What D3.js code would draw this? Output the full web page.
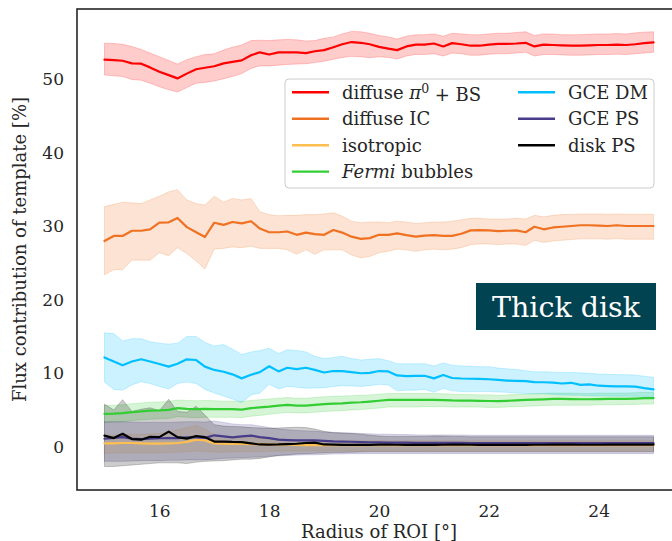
<!DOCTYPE html>
<html>
<head>
<meta charset="utf-8">
<script src="https://cdn.jsdelivr.net/npm/d3@7"></script>
<style>
  html, body { margin: 0; padding: 0; background: #ffffff; }
  svg { display: block; }
  svg text { font-family: "DejaVu Serif", "Liberation Serif", serif !important; }
</style>
</head>
<body>
<svg id="chart" width="672" height="541" font-family="DejaVu Serif, Liberation Serif, serif"></svg>
<script>
// ROI radius (degrees)
const radii = [
  15.00, 15.17, 15.33, 15.50, 15.67, 15.83,
  16.00, 16.17, 16.33, 16.50, 16.67, 16.83,
  17.00, 17.17, 17.33, 17.50, 17.67, 17.83,
  18.00, 18.17, 18.33, 18.50, 18.67, 18.83,
  19.00, 19.17, 19.33, 19.50, 19.67, 19.83,
  20.00, 20.17, 20.33, 20.50, 20.67, 20.83,
  21.00, 21.17, 21.33, 21.50, 21.67, 21.83,
  22.00, 22.17, 22.33, 22.50, 22.67, 22.83,
  23.00, 23.17, 23.33, 23.50, 23.67, 23.83,
  24.00, 24.17, 24.33, 24.50, 24.67, 24.83,
  25.00
];

const xTicks = [16, 18, 20, 22, 24];
const yTicks = [0, 10, 20, 30, 40, 50];

// diffuse pi0 + BS
const pi0Mid = [
  52.7, 52.65, 52.55, 52.2, 52.15, 51.65, 51.05, 50.6, 50.15, 50.8,
  51.4, 51.6, 51.8, 52.2, 52.4, 52.6, 53.3, 53.7, 53.4, 53.7,
  53.7, 53.7, 53.6, 53.85, 54.0, 54.4, 54.8, 55.1, 55.0, 54.8,
  54.45, 54.2, 54.0, 54.5, 54.75, 54.75, 54.9, 54.5, 54.95, 54.8,
  54.6, 54.6, 54.75, 54.85, 54.85, 54.9, 55.0, 54.5, 54.75, 54.7,
  54.65, 54.6, 54.6, 54.65, 54.7, 54.7, 54.75, 54.7, 54.8, 54.95,
  55.05
];
const pi0Hi = [
  54.95, 54.9, 54.8, 54.5, 54.1, 53.6, 53.1, 52.6, 52.1, 52.7,
  53.1, 53.4, 53.5, 54.0, 54.4, 54.7, 55.3, 55.35, 55.3, 55.4,
  55.45, 55.4, 55.25, 55.3, 55.6, 55.8, 56.2, 56.55, 56.5, 56.3,
  56.0, 55.8, 55.5, 55.9, 56.1, 56.1, 56.2, 55.9, 56.3, 56.2,
  56.1, 56.1, 56.2, 56.3, 56.3, 56.4, 56.5, 56.0, 56.2, 56.2,
  56.1, 56.1, 56.1, 56.15, 56.2, 56.2, 56.25, 56.2, 56.35, 56.45,
  56.5
];
const pi0Lo = [
  50.6, 50.5, 50.4, 50.0, 49.9, 49.5, 49.0, 48.6, 48.3, 48.9,
  49.5, 49.6, 49.8, 50.1, 50.4, 50.8, 51.5, 51.85, 51.85, 51.95,
  52.05, 52.1, 52.15, 52.3, 52.5, 52.75, 53.0, 53.15, 53.1, 52.95,
  53.1, 53.0, 52.8, 53.2, 53.4, 53.4, 53.5, 53.2, 53.6, 53.5,
  53.3, 53.3, 53.45, 53.5, 53.5, 53.6, 53.7, 53.2, 53.4, 53.4,
  53.35, 53.3, 53.3, 53.35, 53.4, 53.4, 53.45, 53.4, 53.5, 53.6,
  53.7
];

// diffuse IC
const icMid = [
  28.0, 28.7, 28.7, 29.4, 29.4, 29.6, 30.5, 30.55, 31.15, 29.9,
  29.2, 28.55, 30.5, 30.2, 30.6, 30.4, 30.7, 29.7, 29.2, 29.2,
  29.3, 28.85, 29.15, 28.95, 28.85, 29.5, 29.15, 28.6, 28.3, 28.4,
  28.85, 28.85, 29.05, 28.8, 28.6, 28.75, 28.8, 28.7, 28.7, 29.0,
  29.45, 29.5, 29.45, 29.35, 29.4, 29.45, 29.2, 29.95, 29.6, 29.85,
  29.95, 30.05, 30.15, 30.15, 30.1, 30.05, 30.15, 30.05, 30.05, 30.05,
  30.05
];
const icHi = [
  32.7, 33.0, 33.3, 33.2, 33.1, 33.6, 34.1, 34.7, 35.0, 33.6,
  33.1, 32.9, 34.1, 33.3, 33.8, 33.6, 33.8, 32.0, 31.6, 31.45,
  31.5, 31.5, 31.6, 31.6, 31.7, 31.85, 31.4, 30.7, 30.5, 30.6,
  30.6, 30.5, 30.7, 30.6, 30.4, 30.5, 30.6, 30.6, 30.7, 30.9,
  31.1, 31.1, 31.0, 31.0, 31.0, 31.1, 31.0, 31.5, 31.3, 31.5,
  31.6, 31.65, 31.7, 31.7, 31.7, 31.65, 31.7, 31.65, 31.65, 31.65,
  31.65
];
const icLo = [
  23.4, 24.1, 24.1, 25.4, 25.4, 25.4, 26.4, 26.0, 27.1, 26.3,
  25.3, 24.2, 26.9, 27.0, 27.2, 27.1, 27.3, 27.0, 27.0, 27.0,
  26.8, 26.2, 26.8, 26.2, 26.8, 26.8, 26.8, 26.1, 25.7, 25.9,
  26.4, 26.6, 26.9, 26.8, 26.6, 26.8, 26.9, 26.8, 26.9, 27.1,
  27.5, 27.6, 27.6, 27.5, 27.6, 27.6, 27.4, 28.1, 27.8, 28.0,
  28.1, 28.2, 28.3, 28.3, 28.3, 28.25, 28.35, 28.25, 28.25, 28.25,
  28.25
];

// isotropic
const isoMid = [
  0.45, 0.45, 0.5, 0.5, 0.45, 0.42, 0.42, 0.45, 0.5, 0.65,
  0.95, 0.85, 0.45, 0.4, 0.38, 0.38, 0.36, 0.35, 0.3, 0.28,
  0.27, 0.25, 0.22, 0.2, 0.2, 0.2, 0.2, 0.2, 0.2, 0.2,
  0.2, 0.2, 0.2, 0.2, 0.2, 0.2, 0.2, 0.2, 0.2, 0.2,
  0.2, 0.2, 0.2, 0.2, 0.2, 0.2, 0.2, 0.2, 0.2, 0.2,
  0.2, 0.2, 0.2, 0.2, 0.2, 0.2, 0.2, 0.2, 0.2, 0.2,
  0.2
];
const isoHi = [
  1.6, 1.6, 1.7, 1.7, 1.7, 1.75, 1.8, 2.0, 2.3, 2.6,
  2.9, 2.4, 1.6, 1.4, 1.3, 1.25, 1.2, 1.15, 1.1, 1.05,
  1.0, 0.95, 0.9, 0.85, 0.8, 0.8, 0.8, 0.8, 0.8, 0.8,
  0.8, 0.8, 0.8, 0.8, 0.8, 0.8, 0.8, 0.8, 0.8, 0.8,
  0.8, 0.8, 0.8, 0.8, 0.8, 0.8, 0.8, 0.8, 0.8, 0.8,
  0.8, 0.8, 0.8, 0.8, 0.8, 0.8, 0.8, 0.8, 0.8, 0.8,
  0.8
];
const isoLo = [
  -0.9, -0.9, -0.85, -0.85, -0.85, -0.85, -0.85, -0.8, -0.75, -0.7,
  -0.6, -0.65, -0.75, -0.75, -0.72, -0.7, -0.68, -0.66, -0.64, -0.62,
  -0.6, -0.6, -0.6, -0.6, -0.6, -0.6, -0.6, -0.6, -0.6, -0.6,
  -0.6, -0.6, -0.6, -0.6, -0.6, -0.6, -0.6, -0.6, -0.6, -0.6,
  -0.6, -0.6, -0.6, -0.6, -0.6, -0.6, -0.6, -0.6, -0.6, -0.6,
  -0.6, -0.6, -0.6, -0.6, -0.6, -0.6, -0.6, -0.6, -0.6, -0.6,
  -0.6
];

// Fermi bubbles
const fbMid = [
  4.47, 4.5, 4.56, 4.7, 4.8, 4.92, 4.95, 5.01, 5.24, 5.15,
  5.1, 5.15, 5.12, 5.1, 5.1, 5.05, 5.24, 5.35, 5.46, 5.6,
  5.69, 5.6, 5.6, 5.7, 5.8, 5.85, 5.9, 6.0, 6.05, 6.14,
  6.25, 6.37, 6.37, 6.37, 6.37, 6.37, 6.37, 6.35, 6.3, 6.28,
  6.27, 6.25, 6.22, 6.2, 6.25, 6.3, 6.37, 6.4, 6.45, 6.5,
  6.5, 6.48, 6.46, 6.46, 6.48, 6.5, 6.5, 6.52, 6.55, 6.6,
  6.6
];
const fbHi = [
  5.6, 5.65, 5.7, 5.85, 5.95, 6.05, 6.1, 6.15, 6.35, 6.3,
  6.25, 6.3, 6.25, 6.2, 6.2, 6.15, 6.3, 6.4, 6.5, 6.6,
  6.7, 6.6, 6.6, 6.7, 6.8, 6.85, 6.9, 6.95, 7.0, 7.05,
  7.15, 7.25, 7.25, 7.25, 7.25, 7.25, 7.25, 7.2, 7.15, 7.1,
  7.1, 7.05, 7.05, 7.0, 7.05, 7.1, 7.15, 7.2, 7.25, 7.3,
  7.3, 7.3, 7.25, 7.25, 7.3, 7.3, 7.3, 7.3, 7.35, 7.4,
  7.4
];
const fbLo = [
  3.3, 3.35, 3.4, 3.55, 3.65, 3.75, 3.8, 3.85, 4.1, 4.0,
  3.95, 4.0, 4.0, 4.0, 4.0, 3.95, 4.15, 4.25, 4.4, 4.55,
  4.65, 4.6, 4.6, 4.7, 4.8, 4.85, 4.9, 5.0, 5.05, 5.15,
  5.25, 5.4, 5.4, 5.4, 5.4, 5.45, 5.45, 5.45, 5.4, 5.4,
  5.4, 5.4, 5.35, 5.35, 5.4, 5.45, 5.5, 5.55, 5.6, 5.65,
  5.65, 5.65, 5.65, 5.65, 5.7, 5.7, 5.7, 5.75, 5.75, 5.8,
  5.8
];

// GCE DM
const dmMid = [
  12.15, 11.6, 11.1, 11.6, 11.9, 11.6, 11.25, 10.9, 11.3, 11.9,
  11.8, 10.9, 10.45, 10.2, 9.85, 9.3, 9.8, 10.15, 10.95, 10.25,
  10.75, 10.55, 10.75, 10.45, 10.1, 10.3, 10.3, 10.15, 10.0, 10.05,
  10.3, 10.25, 9.7, 9.6, 9.65, 9.65, 9.3, 9.75, 9.35, 9.28,
  9.25, 9.22, 9.18, 9.1, 9.0, 8.95, 8.92, 8.78, 8.77, 8.72,
  8.6, 8.7, 8.42, 8.48, 8.3, 8.25, 8.22, 8.2, 8.18, 7.98,
  7.8
];
const dmHi = [
  15.5, 15.4, 14.4, 14.7, 14.7, 14.3, 14.1, 13.96, 14.1, 15.0,
  15.0, 14.2, 13.7, 13.9, 13.3, 12.56, 12.9, 13.1, 13.4, 12.7,
  13.2, 13.1, 12.9, 12.3, 12.0, 12.15, 12.3, 12.0, 11.8, 11.9,
  12.0, 11.7, 11.3, 11.3, 11.3, 11.3, 11.0, 11.4, 11.1, 11.0,
  10.95, 10.9, 10.9, 10.7, 10.6, 10.5, 10.35, 10.2, 10.2, 10.15,
  10.1, 10.1, 10.05, 10.0, 9.9, 9.85, 9.82, 9.8, 9.76, 9.6,
  9.44
];
const dmLo = [
  8.8, 7.8, 7.7, 8.4, 8.85, 8.6, 8.2, 7.86, 8.6, 8.8,
  8.6, 7.8, 7.3, 6.9, 6.5, 6.0, 7.05, 7.3, 8.5, 7.86,
  8.2, 8.1, 7.95, 8.0, 8.04, 8.2, 8.3, 8.27, 8.2, 8.3,
  8.5, 8.4, 7.6, 7.7, 7.7, 7.8, 7.4, 7.95, 7.6, 7.5,
  7.5, 7.5, 7.5, 7.45, 7.4, 7.3, 7.25, 7.2, 7.2, 7.1,
  7.05, 7.0, 7.0, 6.95, 6.9, 6.9, 6.88, 6.88, 6.87, 6.85,
  6.8
];

// GCE PS
const gpsMid = [
  1.08, 1.2, 1.3, 1.1, 1.04, 1.08, 1.15, 1.17, 1.17, 1.26,
  1.26, 1.2, 1.55, 1.4, 1.26, 1.4, 1.5, 1.3, 1.17, 0.95,
  0.9, 0.86, 0.86, 0.86, 0.8, 0.72, 0.7, 0.67, 0.63, 0.6,
  0.58, 0.56, 0.55, 0.54, 0.53, 0.52, 0.52, 0.52, 0.51, 0.51,
  0.5, 0.5, 0.5, 0.5, 0.5, 0.5, 0.5, 0.5, 0.5, 0.5,
  0.5, 0.5, 0.5, 0.5, 0.5, 0.5, 0.5, 0.5, 0.5, 0.5,
  0.5
];
const gpsHi = [
  3.4, 3.4, 3.4, 3.35, 3.3, 3.3, 3.3, 3.3, 3.35, 3.4,
  3.4, 3.35, 3.5, 3.3, 3.1, 3.0, 3.0, 2.8, 2.6, 2.4,
  2.3, 2.2, 2.15, 2.1, 2.0, 1.95, 1.9, 1.85, 1.8, 1.75,
  1.7, 1.7, 1.65, 1.65, 1.6, 1.6, 1.6, 1.6, 1.6, 1.6,
  1.55, 1.55, 1.55, 1.55, 1.55, 1.55, 1.55, 1.55, 1.55, 1.55,
  1.55, 1.55, 1.55, 1.55, 1.55, 1.55, 1.55, 1.55, 1.55, 1.55,
  1.55
];
const gpsLo = [
  -2.0, -2.0, -2.0, -1.95, -1.9, -1.9, -1.9, -1.85, -1.85, -1.8,
  -1.8, -1.8, -1.7, -1.6, -1.55, -1.5, -1.45, -1.4, -1.3, -1.25,
  -1.2, -1.15, -1.1, -1.1, -1.05, -1.0, -1.0, -0.95, -0.95, -0.95,
  -0.95, -0.95, -0.95, -0.95, -0.95, -0.95, -0.95, -0.95, -0.95, -0.95,
  -0.95, -0.95, -0.95, -0.95, -0.95, -0.95, -0.95, -0.95, -0.95, -0.95,
  -0.95, -0.95, -0.95, -0.95, -0.95, -0.95, -0.95, -0.95, -0.95, -0.95,
  -0.95
];

// disk PS
const dpsMid = [
  1.5, 1.17, 1.76, 1.04, 0.95, 1.35, 1.3, 2.05, 1.3, 1.1,
  1.45, 1.3, 0.7, 0.7, 0.65, 0.63, 0.45, 0.3, 0.27, 0.3,
  0.36, 0.4, 0.5, 0.55, 0.3, 0.27, 0.25, 0.24, 0.24, 0.25,
  0.27, 0.28, 0.26, 0.25, 0.24, 0.24, 0.25, 0.26, 0.27, 0.27,
  0.26, 0.25, 0.25, 0.25, 0.24, 0.25, 0.25, 0.26, 0.26, 0.27,
  0.27, 0.27, 0.26, 0.26, 0.26, 0.27, 0.27, 0.27, 0.28, 0.28,
  0.28
];
const dpsHi = [
  5.8, 5.0, 6.4, 4.8, 5.1, 5.3, 4.9, 6.45, 4.8, 4.7,
  5.5, 4.3, 3.0, 2.8, 2.75, 2.7, 2.6, 2.55, 2.5, 2.55,
  2.6, 2.65, 2.6, 2.4, 2.1, 1.9, 1.85, 1.8, 1.7, 1.55,
  1.45, 1.4, 1.4, 1.4, 1.4, 1.4, 1.45, 1.45, 1.4, 1.4,
  1.35, 1.35, 1.35, 1.35, 1.35, 1.35, 1.35, 1.35, 1.35, 1.35,
  1.35, 1.35, 1.35, 1.35, 1.35, 1.35, 1.35, 1.35, 1.35, 1.35,
  1.35
];
const dpsLo = [
  -2.7, -2.7, -2.6, -2.5, -2.4, -2.3, -2.2, -2.2, -2.2, -2.3,
  -2.1, -2.0, -1.95, -1.9, -1.8, -1.7, -1.7, -1.6, -1.4, -1.2,
  -1.1, -1.0, -0.95, -0.9, -0.85, -0.8, -0.78, -0.75, -0.72, -0.7,
  -0.7, -0.7, -0.7, -0.7, -0.7, -0.7, -0.7, -0.7, -0.7, -0.7,
  -0.7, -0.7, -0.7, -0.7, -0.7, -0.7, -0.7, -0.7, -0.7, -0.7,
  -0.7, -0.7, -0.7, -0.7, -0.7, -0.7, -0.7, -0.7, -0.7, -0.7,
  -0.7
];

const seriesNames = ["diffuse pi0 + BS", "diffuse IC", "isotropic", "Fermi bubbles", "GCE DM", "GCE PS", "disk PS"];
const seriesColors = ["#ff0000", "#f07122", "#ffbf50", "#32cd32", "#00bfff", "#483d8b", "#000000"];

const templates = [
  { mid: pi0Mid, lo: pi0Lo, hi: pi0Hi },
  { mid: icMid,  lo: icLo,  hi: icHi },
  { mid: isoMid, lo: isoLo, hi: isoHi },
  { mid: fbMid,  lo: fbLo,  hi: fbHi },
  { mid: dmMid,  lo: dmLo,  hi: dmHi },
  { mid: gpsMid, lo: gpsLo, hi: gpsHi },
  { mid: dpsMid, lo: dpsLo, hi: dpsHi }
].map((t, k) => ({
  name: seriesNames[k],
  color: seriesColors[k],
  points: radii.map((r, i) => ({ r, mid: t.mid[i], lo: t.lo[i], hi: t.hi[i] }))
}));

// ---- layout ----
const serif = "DejaVu Serif, Liberation Serif, serif";
const svg = d3.select("#chart");
const plotLeft = 77, plotTop = 9, plotBottom = 490, plotRight = 681;
const ink = "#262626";

const x = d3.scaleLinear().domain([14.5, 25.5]).range([plotLeft, plotRight]);
const y = d3.scaleLinear().domain([-5.9, 59.6]).range([plotBottom, plotTop]);

svg.append("defs").append("clipPath").attr("id", "plotclip")
  .append("rect")
  .attr("x", plotLeft).attr("y", plotTop)
  .attr("width", plotRight - plotLeft).attr("height", plotBottom - plotTop);

const plot = svg.append("g").attr("clip-path", "url(#plotclip)");

const band = d3.area()
  .x(d => x(d.r))
  .y0(d => y(d.lo))
  .y1(d => y(d.hi));

const line = d3.line()
  .x(d => x(d.r))
  .y(d => y(d.mid));

// uncertainty bands
plot.selectAll("path.band")
  .data(templates)
  .join("path")
  .attr("class", "band")
  .attr("d", d => band(d.points))
  .attr("fill", d => d.color)
  .attr("fill-opacity", 0.2)
  .attr("stroke", d => d.color)
  .attr("stroke-opacity", 0.2)
  .attr("stroke-width", 1);

// median lines
plot.selectAll("path.mid")
  .data(templates)
  .join("path")
  .attr("class", "mid")
  .attr("d", d => line(d.points))
  .attr("fill", "none")
  .attr("stroke", d => d.color)
  .attr("stroke-width", 2.2)
  .attr("stroke-linejoin", "round")
  .attr("stroke-linecap", "round");

// axes frame
svg.append("rect")
  .attr("x", plotLeft).attr("y", plotTop)
  .attr("width", plotRight - plotLeft).attr("height", plotBottom - plotTop)
  .attr("fill", "none")
  .attr("stroke", ink)
  .attr("stroke-width", 1.6);

// y axis
const yAxis = svg.append("g")
  .attr("transform", `translate(${plotLeft},0)`)
  .call(d3.axisLeft(y).tickValues(yTicks).tickSize(0).tickPadding(13).tickFormat(d3.format("d")));
yAxis.attr("font-family", serif).attr("font-size", 17);
yAxis.select(".domain").remove();
yAxis.selectAll("text")
  .attr("fill", ink)
  .attr("font-family", serif)
  .attr("font-size", 17);

// x axis
const xAxis = svg.append("g")
  .attr("transform", `translate(0,${plotBottom})`)
  .call(d3.axisBottom(x).tickValues(xTicks).tickSize(0).tickPadding(15).tickFormat(d3.format("d")));
xAxis.attr("font-family", serif).attr("font-size", 17);
xAxis.select(".domain").remove();
xAxis.selectAll("text")
  .attr("fill", ink)
  .attr("font-family", serif)
  .attr("font-size", 17);

// axis titles
svg.append("text")
  .attr("transform", `translate(26,${(plotTop + plotBottom) / 2}) rotate(-90)`)
  .attr("text-anchor", "middle")
  .attr("fill", ink)
  .attr("font-family", serif)
  .attr("font-size", 18)
  .text("Flux contribution of template [%]");

svg.append("text")
  .attr("x", (plotLeft + plotRight) / 2)
  .attr("y", 538)
  .attr("text-anchor", "middle")
  .attr("fill", ink)
  .attr("font-family", serif)
  .attr("font-size", 18)
  .text("Radius of ROI [°]");

// legend
const legend = svg.append("g");
legend.append("rect")
  .attr("x", 285).attr("y", 79)
  .attr("width", 369).attr("height", 109)
  .attr("rx", 4)
  .attr("fill", "#ffffff").attr("fill-opacity", 0.8)
  .attr("stroke", "#cccccc").attr("stroke-width", 1);

const rowY = [92.3, 118.7, 145.2, 171.6];
const legendPos = templates.map((t, k) => {
  const col = k < 4 ? 0 : 1;
  const row = k < 4 ? k : k - 4;
  return { t, hx: col === 0 ? 292 : 518, tx: col === 0 ? 342 : 568, y: rowY[row] };
});

legendPos.forEach(p => {
  legend.append("line")
    .attr("x1", p.hx).attr("x2", p.hx + 37)
    .attr("y1", p.y).attr("y2", p.y)
    .attr("stroke", p.t.color)
    .attr("stroke-width", 2.4);
  const label = legend.append("text")
    .attr("x", p.tx).attr("y", p.y)
    .attr("dy", "0.36em")
    .attr("fill", ink)
    .attr("font-family", serif)
    .attr("font-size", 18);
  if (p.t.name === "diffuse pi0 + BS") {
    label.append("tspan").text("diffuse ");
    label.append("tspan").attr("font-style", "italic").text("π");
    label.append("tspan").attr("dy", "-0.45em").attr("font-size", 12.5).text("0");
    label.append("tspan").attr("dy", "0.45em").text(" + BS");
  } else if (p.t.name === "Fermi bubbles") {
    label.append("tspan").attr("font-style", "italic").text("Fermi");
    label.append("tspan").text(" bubbles");
  } else {
    label.text(p.t.name);
  }
});

// region tag
const tag = svg.append("g");
tag.append("rect")
  .attr("x", 476).attr("y", 283)
  .attr("width", 180).attr("height", 47)
  .attr("fill", "#024351");
tag.append("text")
  .attr("x", 566).attr("y", 317)
  .attr("text-anchor", "middle")
  .attr("fill", "#ffffff")
  .attr("font-family", serif)
  .attr("font-size", 28.5)
  .text("Thick disk");
</script>
</body>
</html>
